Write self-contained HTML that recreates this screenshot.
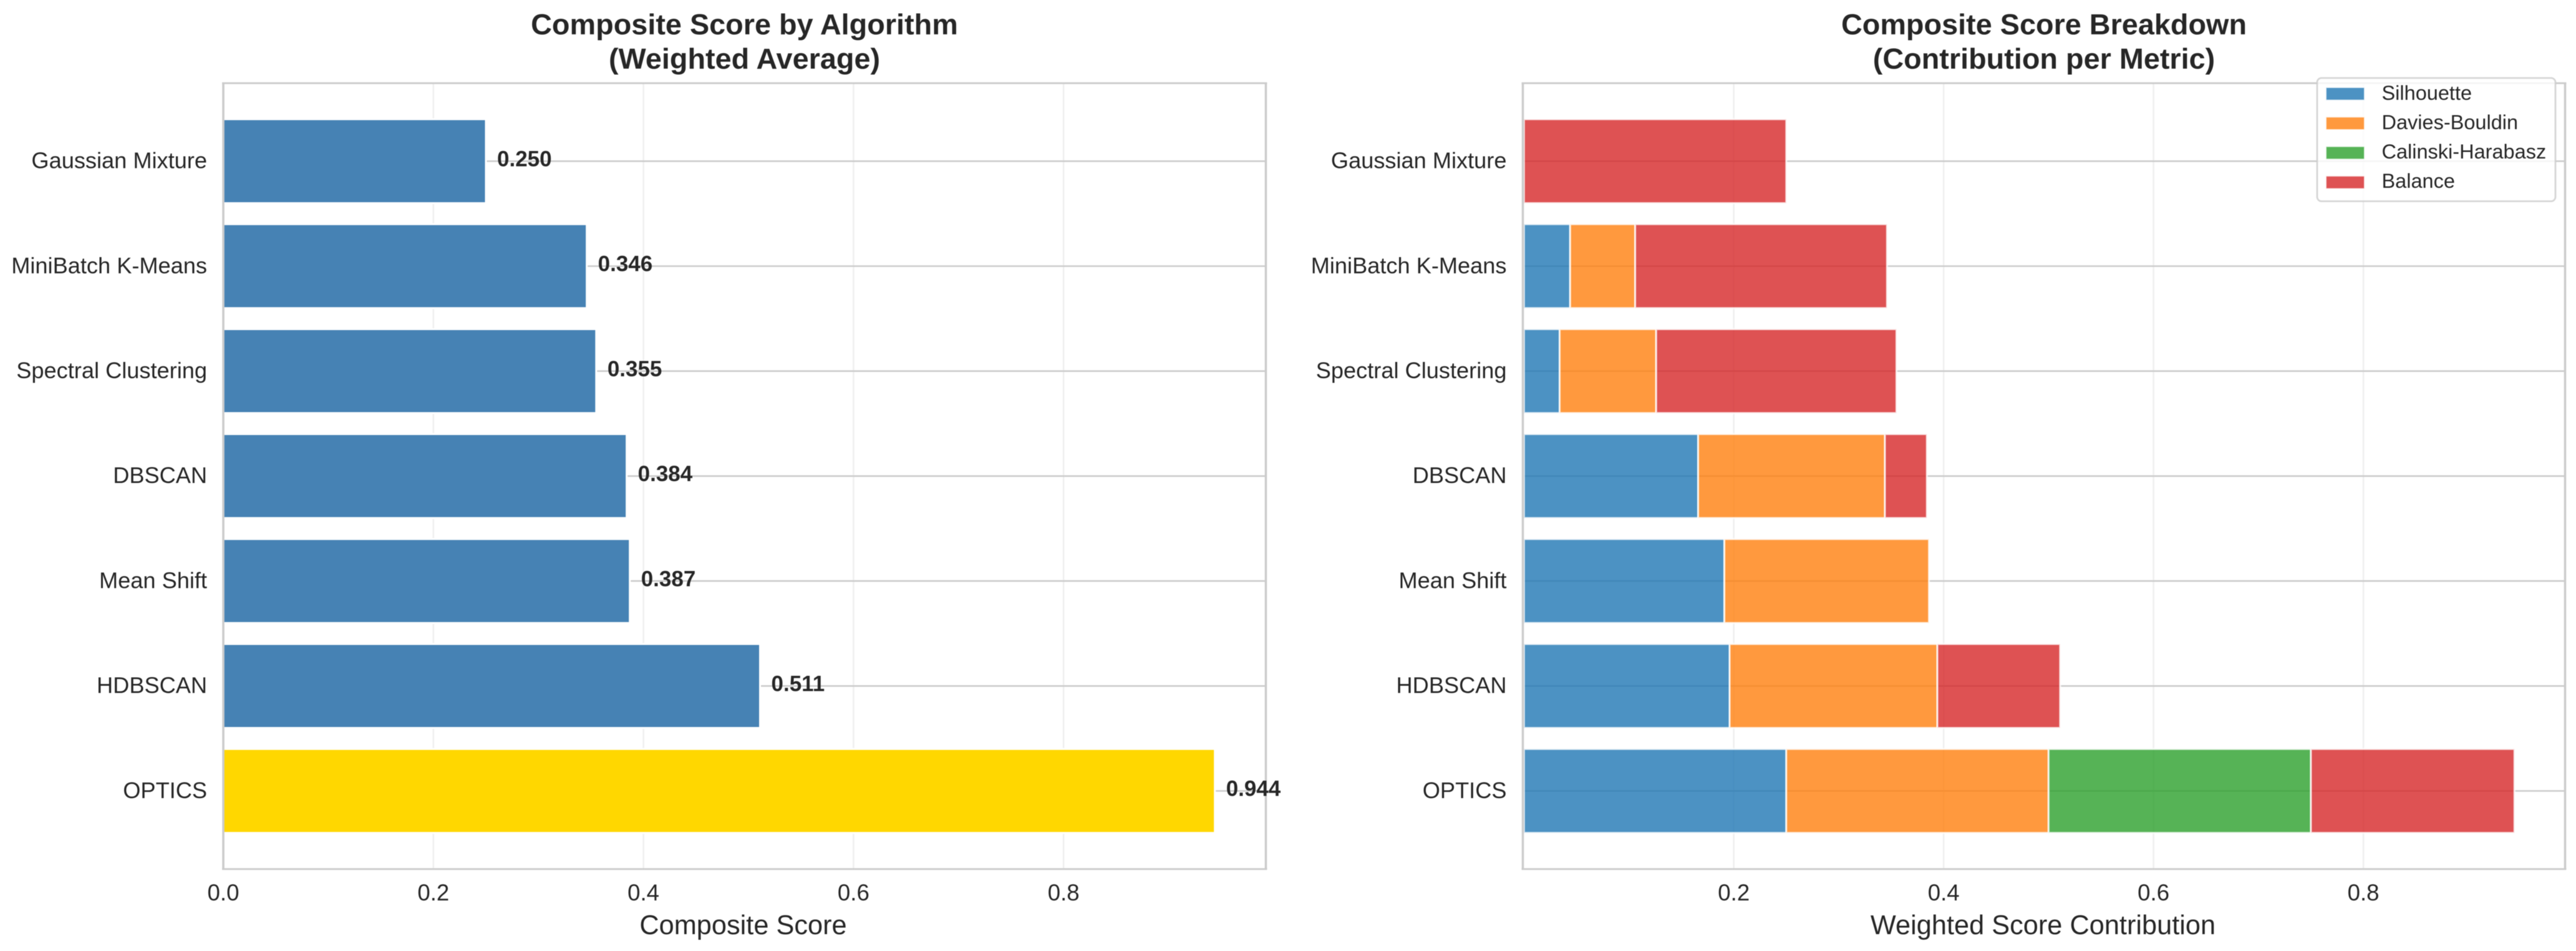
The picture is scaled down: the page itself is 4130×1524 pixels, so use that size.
<!DOCTYPE html>
<html lang="en">
<head>
<meta charset="utf-8">
<title>Composite Score by Algorithm</title>
<style>
  html, body { margin: 0; padding: 0; background: #ffffff; }
  svg { display: block; filter: blur(0.6px); }
  text { font-family: "Liberation Sans", Arial, sans-serif; fill: #262626; }
</style>
</head>
<body>
<svg id="chart" xmlns="http://www.w3.org/2000/svg" width="4130" height="1524" viewBox="0 0 4130 1524">
  <rect x="0" y="0" width="4130" height="1524" fill="#ffffff"></rect>
  <g id="left-panel"></g>
  <g id="right-panel"></g>
  <text x="1193.5" y="55" text-anchor="middle" font-size="46.8" font-weight="bold">Composite Score by Algorithm</text>
  <text x="1193.5" y="110" text-anchor="middle" font-size="46.8" font-weight="bold">(Weighted Average)</text>
  <text x="3277" y="55" text-anchor="middle" font-size="46.8" font-weight="bold">Composite Score Breakdown</text>
  <text x="3277" y="110" text-anchor="middle" font-size="46.8" font-weight="bold">(Contribution per Metric)</text>
  <text x="1191.5" y="1497" text-anchor="middle" font-size="43.33">Composite Score</text>
  <text x="3275.5" y="1497" text-anchor="middle" font-size="43.33">Weighted Score Contribution</text>
  <g id="legend"></g>
</svg>
<script>
const categories = ["Gaussian Mixture", "MiniBatch K-Means", "Spectral Clustering", "DBSCAN", "Mean Shift", "HDBSCAN", "OPTICS"];
const compositeScores = [0.250, 0.346, 0.355, 0.384, 0.387, 0.511, 0.944];
const silhouetteValues = [0, 0.044, 0.034, 0.166, 0.191, 0.196, 0.250];
const daviesBouldinValues = [0, 0.062, 0.092, 0.178, 0.195, 0.198, 0.250];
const calinskiHarabaszValues = [0, 0, 0, 0, 0, 0, 0.250];
const balanceValues = [0.250, 0.240, 0.229, 0.040, 0, 0.117, 0.194];
const leftTickValues = [0.0, 0.2, 0.4, 0.6, 0.8];
const rightTickValues = [0.2, 0.4, 0.6, 0.8];
const metricNames = ["Silhouette", "Davies-Bouldin", "Calinski-Harabasz", "Balance"];
const metricColors = ["#1f77b4", "#ff7f0e", "#2ca02c", "#d62728"];

const SVG_NS = "http://www.w3.org/2000/svg";
const GRID = "#cccccc";
const AXIS_TOP = 133.3;
const AXIS_BOTTOM = 1392.7;
const LEFT_X0 = 358;
const LEFT_X1 = 2029.5;
const RIGHT_X0 = 2441.5;
const RIGHT_X1 = 4112.5;

function make(tag, attrs, parent) {
  const node = document.createElementNS(SVG_NS, tag);
  for (const key in attrs) node.setAttribute(key, attrs[key]);
  parent.appendChild(node);
  return node;
}
function xLeft(v) { return LEFT_X0 + v * 1684; }
function xRight(v) { return 2443.3 + v * 1682.2; }
function yCenter(i) { return 258.3 + i * 168.2; }
const BAR_HEIGHT = 134.5;

function drawFrame(parent, x0, x1, ticks, xScale, prefix) {
  ticks.forEach(function (t) {
    if (xScale(t) > x0 + 2) {
      const v = make("line", { x1: xScale(t), x2: xScale(t), y1: AXIS_TOP, y2: AXIS_BOTTOM, stroke: GRID, "stroke-width": 2.6, "stroke-opacity": 0.3 }, parent);
      
      
    }
  });
  categories.forEach(function (c, i) {
    const h = make("line", { x1: x0, x2: x1, y1: yCenter(i), y2: yCenter(i), stroke: GRID, "stroke-width": 2.6 }, parent);
    
    
  });
}
function drawAxes(parent, x0, x1, ticks, xScale, prefix) {
  const spineTop = make("line", { x1: x0 - 2, x2: x1 + 2, y1: AXIS_TOP, y2: AXIS_TOP, stroke: GRID, "stroke-width": 2.8 }, parent);
  
  
  const spineBottom = make("line", { x1: x0 - 2, x2: x1 + 2, y1: AXIS_BOTTOM, y2: AXIS_BOTTOM, stroke: GRID, "stroke-width": 2.8 }, parent);
  
  
  const spineLeft = make("line", { x1: x0, x2: x0, y1: AXIS_TOP, y2: AXIS_BOTTOM, stroke: GRID, "stroke-width": 3.6 }, parent);
  
  
  const spineRight = make("line", { x1: x1, x2: x1, y1: AXIS_TOP, y2: AXIS_BOTTOM, stroke: GRID, "stroke-width": 3.6 }, parent);
  
  

  ticks.forEach(function (t) {
    const label = make("text", { x: xScale(t), y: 1442.8, "text-anchor": "middle", "font-size": 36.67 }, parent);
    label.textContent = t.toFixed(1);
    
    
  });
  categories.forEach(function (c, i) {
    const label = make("text", { x: x0 - 26, y: yCenter(i) + 11.3, "text-anchor": "end", "font-size": 36.2 }, parent);
    label.textContent = c;
    
    
  });
}

/* left panel */
const leftPanel = document.getElementById("left-panel");
drawFrame(leftPanel, LEFT_X0, LEFT_X1, leftTickValues, xLeft, "left");
const bestScore = Math.max.apply(null, compositeScores);
compositeScores.forEach(function (score, i) {
  const bar = make("rect", {
    x: xLeft(0), y: yCenter(i) - BAR_HEIGHT / 2,
    width: xLeft(score) - xLeft(0), height: BAR_HEIGHT,
    fill: score === bestScore ? "#ffd700" : "#4682b4",
    stroke: "#ffffff", "stroke-width": 3
  }, leftPanel);
  
  
});
drawAxes(leftPanel, LEFT_X0, LEFT_X1, leftTickValues, xLeft, "left");
compositeScores.forEach(function (score, i) {
  const label = make("text", { x: xLeft(score) + 18, y: yCenter(i) + 8.2, "font-size": 35, "font-weight": "bold" }, leftPanel);
  label.textContent = score.toFixed(3);
  
  
});

/* right panel */
const rightPanel = document.getElementById("right-panel");
drawFrame(rightPanel, RIGHT_X0, RIGHT_X1, rightTickValues, xRight, "right");
const metricSeries = [silhouetteValues, daviesBouldinValues, calinskiHarabaszValues, balanceValues];
metricSeries.forEach(function (series, m) {
  series.forEach(function (value, i) {
    let start = 0;
    for (let k = 0; k < m; k++) start += metricSeries[k][i];
    const seg = make("rect", {
      x: xRight(start), y: yCenter(i) - BAR_HEIGHT / 2,
      width: xRight(start + value) - xRight(start), height: BAR_HEIGHT,
      fill: metricColors[m], "fill-opacity": 0.8,
      stroke: "#ffffff", "stroke-opacity": 0.8, "stroke-width": 3
    }, rightPanel);
    
    
  });
});
drawAxes(rightPanel, RIGHT_X0, RIGHT_X1, rightTickValues, xRight, "right");

/* legend */
const legend = document.getElementById("legend");
const legendBox = make("rect", { x: 3715, y: 125, width: 382, height: 197.5, rx: 7, ry: 7, fill: "#ffffff", "fill-opacity": 0.8, stroke: GRID, "stroke-opacity": 0.8, "stroke-width": 2.8 }, legend);


metricNames.forEach(function (name, i) {
  const swatch = make("rect", { x: 3729, y: 140 + i * 47.3, width: 62, height: 20.7, fill: metricColors[i], "fill-opacity": 0.8, stroke: "#ffffff", "stroke-opacity": 0.8, "stroke-width": 2 }, legend);
  
  
  const label = make("text", { x: 3818.5, y: 160 + i * 47, "font-size": 32.5 }, legend);
  label.textContent = name;
  
  
});
</script>
</body>
</html>
